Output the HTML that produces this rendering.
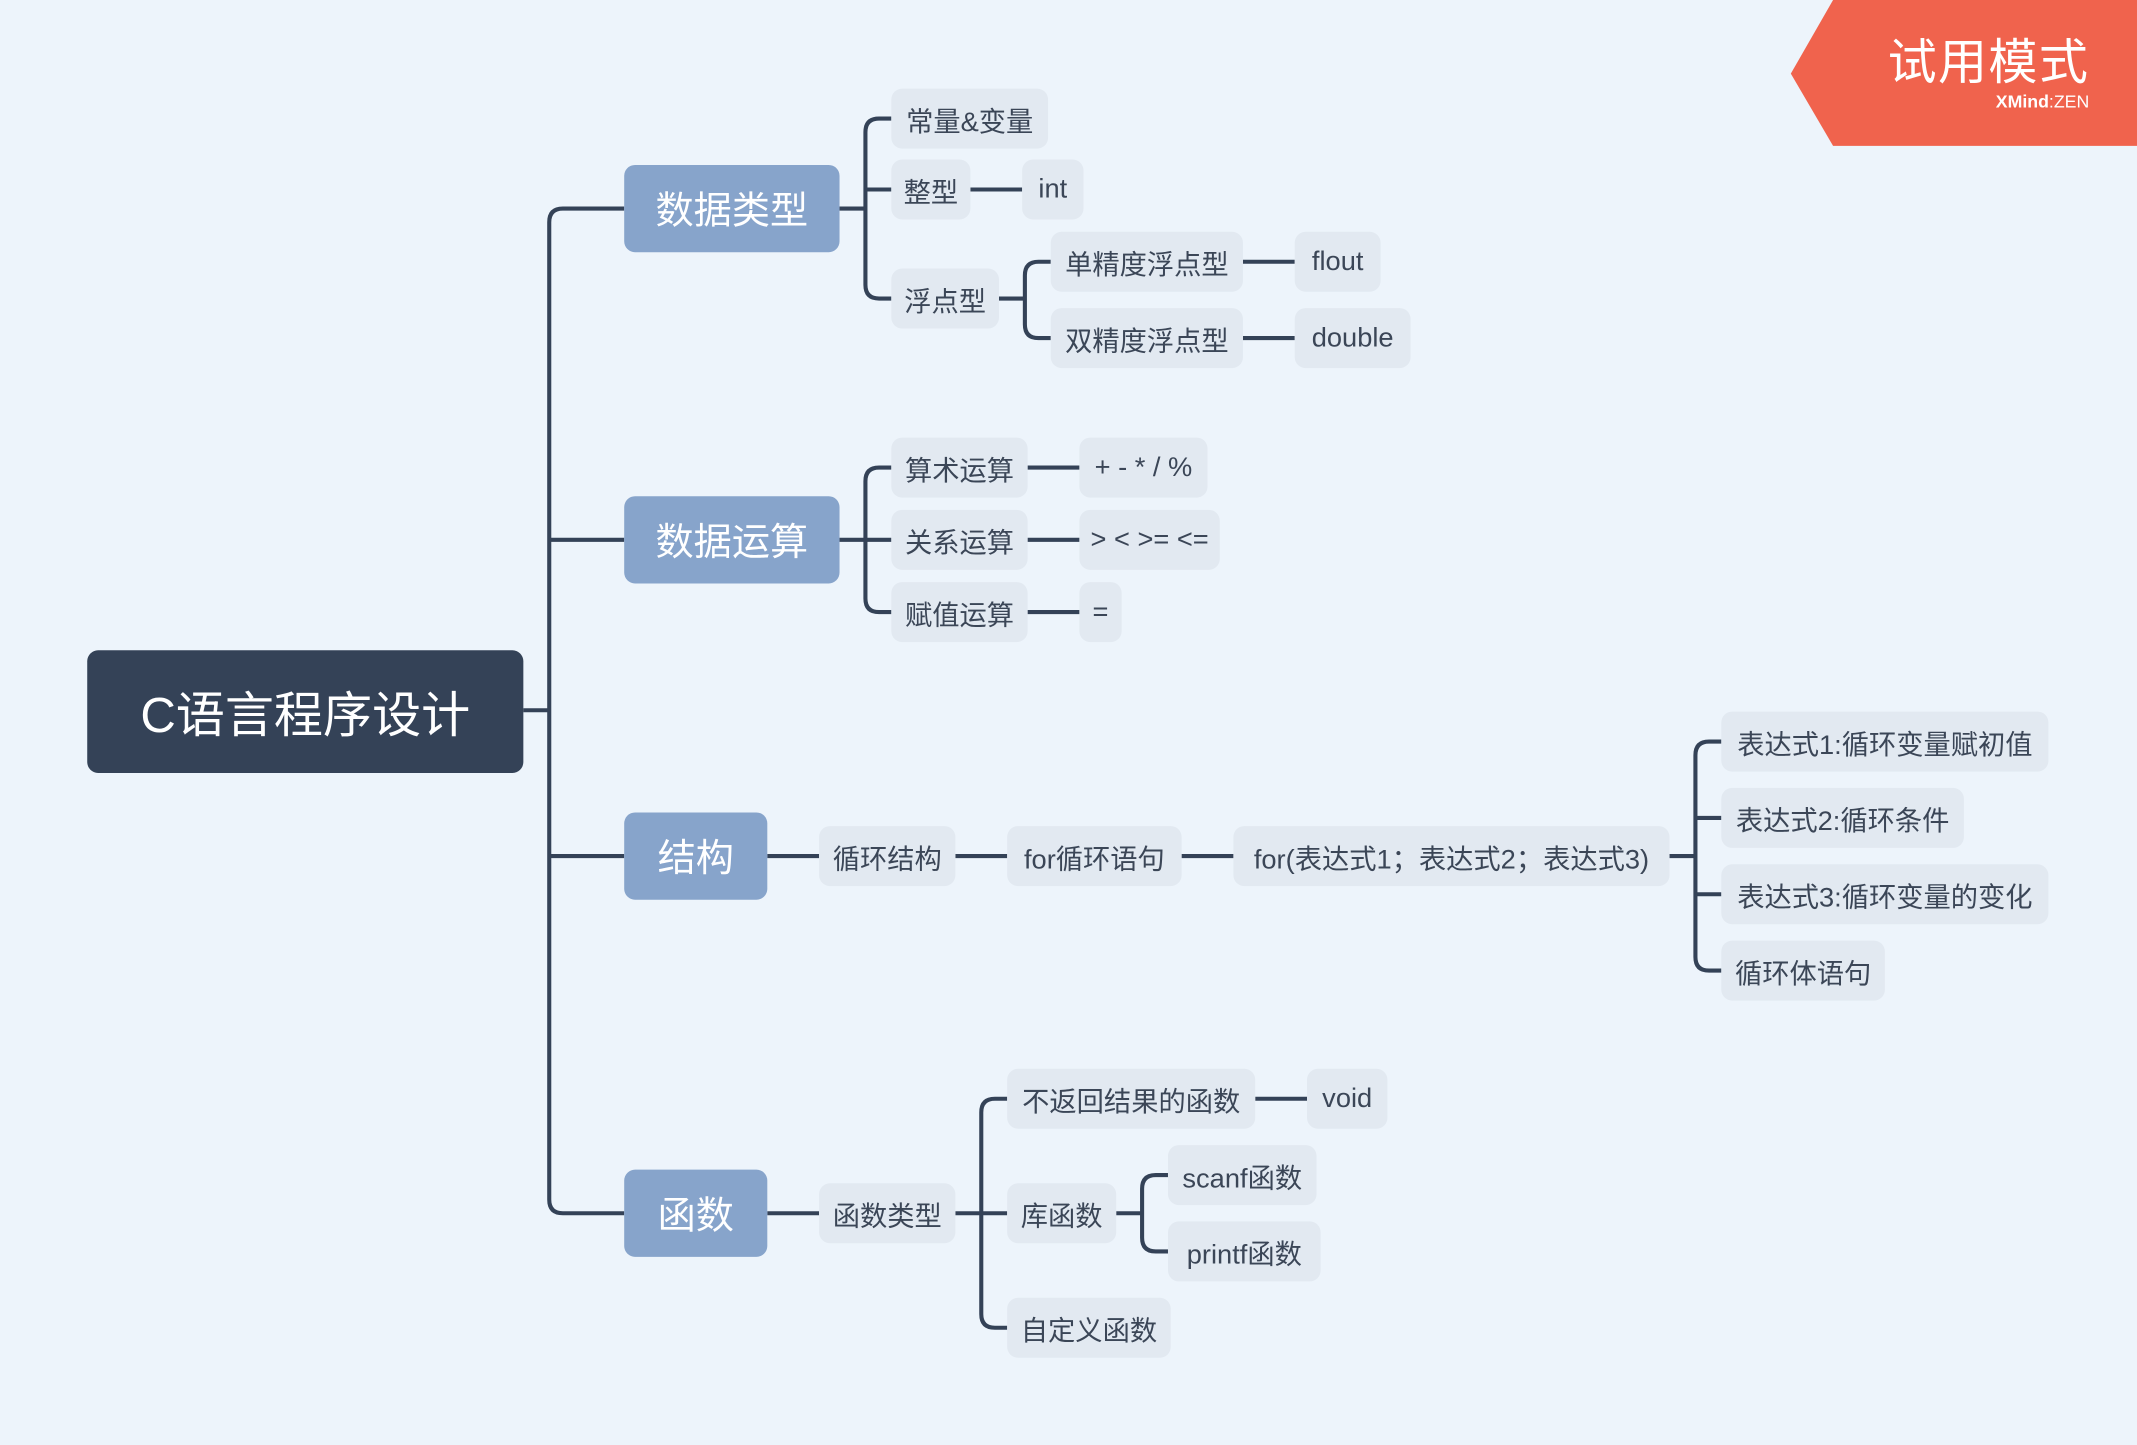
<!DOCTYPE html>
<html><head><meta charset="utf-8"><style>
html,body{margin:0;padding:0;}
body{width:2137px;height:1445px;overflow:hidden;background:#edf4fb;}
#s{position:absolute;left:0;top:0;width:1568px;height:1060px;transform-origin:0 0;transform:scale(1.36288,1.36321);font-family:"Liberation Sans","Noto Sans CJK SC",sans-serif;}
.n{position:absolute;display:flex;align-items:center;justify-content:center;box-sizing:border-box;white-space:nowrap;}
.l{height:44px;background:#e2e9f1;border-radius:8px;font-size:20px;color:#3b4657;}
.m{height:64px;background:#87a4cb;border-radius:8px;font-size:28px;color:#fff;}
svg{position:absolute;left:0;top:0;}
</style></head><body><div id="s">
<svg width="1568" height="1060" fill="none" stroke="#344257" stroke-width="3">
<path d="M384,521H403M458,153H413Q403,153 403,163V880Q403,890 413,890H458M403,396H458M403,628H458"/>
<path d="M616,153H635M654,87H645Q635,87 635,97V209Q635,219 645,219H654M635,139H654M712,139H750"/>
<path d="M733,219H752M771,192H762Q752,192 752,202V238Q752,248 762,248H771M912,192H950M912,248H950"/>
<path d="M616,396H654M654,343H645Q635,343 635,353V439Q635,449 645,449H654M754,343H792M754,396H792M754,449H792"/>
<path d="M563,628H601M701,628H739M867,628H905M1225,628H1244M1263,544H1254Q1244,544 1244,554V702Q1244,712 1254,712H1263M1244,600H1263M1244,656H1263"/>
<path d="M563,890H601M701,890H739M739,806H730Q720,806 720,816V964Q720,974 730,974H739M921,806H959M819,890H838M857,862H848Q838,862 838,872V908Q838,918 848,918H857"/>
<polygon points="1314,54 1345,0 1568,0 1568,107 1345,107" fill="#f0634d" stroke="none"/>
</svg>
<div style="position:absolute;right:35px;top:17px;font-size:36px;color:#fff;letter-spacing:1px;font-family:'Noto Sans CJK SC',sans-serif;">试用模式</div>
<div style="position:absolute;right:35px;top:67px;font-size:13px;color:#fff;"><b>XMind</b>:ZEN</div>
<div class="n" style="left:64px;top:477px;width:320px;height:90px;background:#344257;border-radius:8px;font-size:36px;color:#fff;">C语言程序设计</div>
<div class="n m" style="left:458px;top:121px;width:158px;">数据类型</div>
<div class="n m" style="left:458px;top:364px;width:158px;">数据运算</div>
<div class="n m" style="left:458px;top:596px;width:105px;">结构</div>
<div class="n m" style="left:458px;top:858px;width:105px;">函数</div>
<div class="n l" style="left:654px;top:65px;width:115px;">常量&amp;变量</div>
<div class="n l" style="left:654px;top:117px;width:58px;">整型</div>
<div class="n l" style="left:750px;top:117px;width:45px;">int</div>
<div class="n l" style="left:654px;top:197px;width:79px;">浮点型</div>
<div class="n l" style="left:771px;top:170px;width:141px;">单精度浮点型</div>
<div class="n l" style="left:950px;top:170px;width:63px;">flout</div>
<div class="n l" style="left:771px;top:226px;width:141px;">双精度浮点型</div>
<div class="n l" style="left:950px;top:226px;width:85px;">double</div>
<div class="n l" style="left:654px;top:321px;width:100px;">算术运算</div>
<div class="n l" style="left:792px;top:321px;width:94px;">+ - * / %</div>
<div class="n l" style="left:654px;top:374px;width:100px;">关系运算</div>
<div class="n l" style="left:792px;top:374px;width:103px;">&gt; &lt; &gt;= &lt;=</div>
<div class="n l" style="left:654px;top:427px;width:100px;">赋值运算</div>
<div class="n l" style="left:792px;top:427px;width:31px;">=</div>
<div class="n l" style="left:601px;top:606px;width:100px;">循环结构</div>
<div class="n l" style="left:739px;top:606px;width:128px;">for循环语句</div>
<div class="n l" style="left:905px;top:606px;width:320px;">for(表达式1；表达式2；表达式3)</div>
<div class="n l" style="left:1263px;top:522px;width:240px;">表达式1:循环变量赋初值</div>
<div class="n l" style="left:1263px;top:578px;width:178px;">表达式2:循环条件</div>
<div class="n l" style="left:1263px;top:634px;width:240px;">表达式3:循环变量的变化</div>
<div class="n l" style="left:1263px;top:690px;width:120px;">循环体语句</div>
<div class="n l" style="left:601px;top:868px;width:100px;">函数类型</div>
<div class="n l" style="left:739px;top:784px;width:182px;">不返回结果的函数</div>
<div class="n l" style="left:959px;top:784px;width:59px;">void</div>
<div class="n l" style="left:739px;top:868px;width:80px;">库函数</div>
<div class="n l" style="left:857px;top:840px;width:109px;">scanf函数</div>
<div class="n l" style="left:857px;top:896px;width:112px;">printf函数</div>
<div class="n l" style="left:739px;top:952px;width:120px;">自定义函数</div>
</div></body></html>
